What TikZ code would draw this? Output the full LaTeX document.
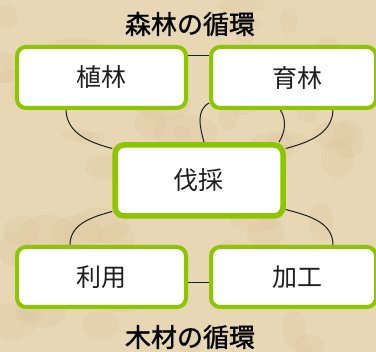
\documentclass[tikz,border=0pt]{standalone}
\usepackage{fontspec}
\newfontfamily\jp{Noto Sans CJK JP}
\newfontfamily\jpt{Noto Sans CJK JP}[FakeBold=1.2]
\usetikzlibrary{calc}
\pgfdeclarelayer{background}
\pgfdeclarelayer{bg0}
\pgfsetlayers{bg0,background,main}
\definecolor{parch}{RGB}{232,215,180}
\definecolor{parchd}{RGB}{214,192,150}
\definecolor{leaf}{RGB}{141,198,0}
\definecolor{ink}{RGB}{30,30,30}
\tikzset{
  x=1pt,y=1pt,
  boxa/.style={draw=leaf, line width=4pt, fill=white, rounded corners=9pt,
    minimum width=169pt, minimum height=61pt, inner sep=0pt,
    font=\jp\fontsize{25}{25}\selectfont, text=ink},
  boxr/.style={boxa, minimum width=165pt},
  boxb/.style={boxa, line width=5.5pt, minimum width=168pt, minimum height=71pt},
  ttl/.style={font=\jpt\fontsize{26}{26}\selectfont, text=black, inner sep=0pt},
  conn/.style={draw=ink, line width=1pt}
}
\begin{document}
\begin{tikzpicture}
\useasboundingbox (0,0) rectangle (376,-352);
\begin{pgfonlayer}{bg0}
\begin{scope}
\clip (0,0) rectangle (376,-352);
\fill[parch] (0,0) rectangle (376,-352);
\pgfmathsetseed{7}
\foreach \i in {1,...,70}{
  \pgfmathsetmacro{\px}{rnd*376}
  \pgfmathsetmacro{\py}{-rnd*352}
  \pgfmathsetmacro{\rx}{8+rnd*25}
  \pgfmathsetmacro{\ry}{5+rnd*15}
  \fill[parchd, opacity=0.18] (\px,\py) ellipse [x radius=\rx, y radius=\ry];
}
\end{scope}
\end{pgfonlayer}
\node[ttl] (t1) at (190,-24) {森林の循環};
\node[ttl] (t2) at (190,-337) {木材の循環};
\node[boxa] (p1) at (101.5,-77.5) {植林};
\node[boxr] (p2) at (293.5,-77.5) {\hspace*{8pt}育林};
\node[boxb] (p3) at (199,-180.5) {伐採};
\node[boxa, minimum height=60pt] (p4) at (101.5,-277) {利用};
\node[boxr, minimum height=60pt] (p5) at (293.5,-277) {\hspace*{8pt}加工};
\begin{pgfonlayer}{background}
\draw[conn] ([yshift=-11pt]p1.north east) -- ([yshift=-11pt]p2.north west);
\draw[conn] ([xshift=-35.5pt]p1.south) to[out=-88,in=165] ([yshift=32pt]p3.west);
\draw[conn] ([xshift=39.5pt]p2.south) to[out=-92,in=15] ([yshift=32pt]p3.east);
\draw[conn] ([yshift=7pt]p2.south west) to[out=210,in=105] ([xshift=5pt]p3.north);
\draw[conn] ([xshift=-13pt]p2.south) to[out=-60,in=60] ([xshift=80pt]p3.north);
\draw[conn] ([yshift=-31pt]p3.west) to[out=195,in=90] ([xshift=-31.5pt]p4.north);
\draw[conn] ([yshift=-29pt]p3.east) to[out=-15,in=90] ([xshift=39.5pt]p5.north);
\draw[conn] ([yshift=-6pt]p4.east) -- ([yshift=-6pt]p5.west);
\end{pgfonlayer}
\end{tikzpicture}
\end{document}
